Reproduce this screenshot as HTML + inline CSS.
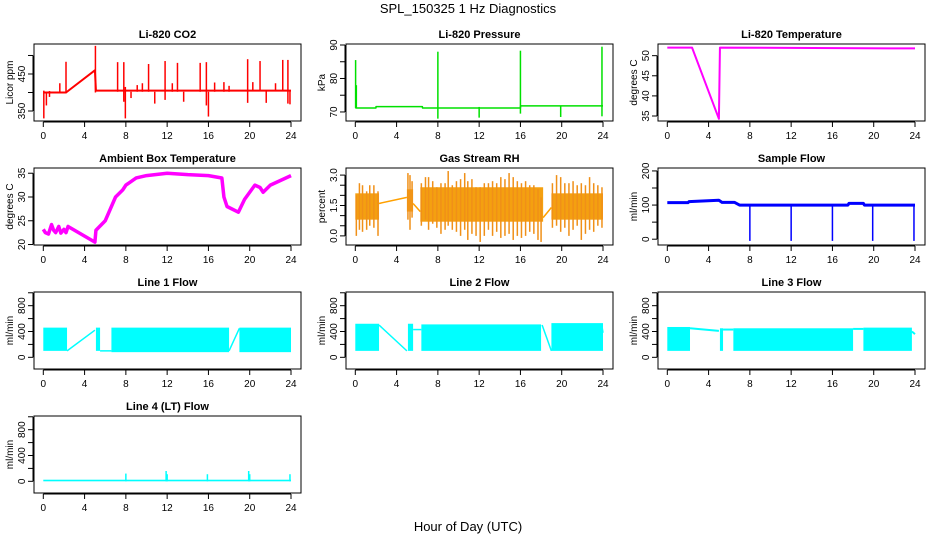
<!DOCTYPE html>
<html><head><meta charset="utf-8"><style>
body{margin:0;background:#fff}
svg{display:block;font-family:"Liberation Sans",sans-serif}
</style></head><body>
<svg id="chart" width="936" height="540" viewBox="0 0 936 540" xmlns="http://www.w3.org/2000/svg">
<text x="468" y="13" text-anchor="middle" font-size="13">SPL_150325  1 Hz Diagnostics</text>
<text x="468" y="531" text-anchor="middle" font-size="13">Hour of Day (UTC)</text>
</svg>
<script>
// ---- data ----
const xTicks = [0,4,8,12,16,20,24];
// CO2
const co2T = [0, 2.2, 5.0, 5.1, 24];
const co2V = [400, 400, 460, 405, 405];
const co2Spikes = [[0.05,330,405],[0.3,365,402],[0.6,388,404],[1.6,400,425],[2.2,398,483],[5.05,400,526],[7.2,402,482],[7.8,375,482],[7.95,330,415],[8.5,385,402],[9.1,402,420],[9.6,402,425],[10.2,402,477],[10.8,370,402],[11.8,380,485],[12.5,402,425],[13,402,480],[13.6,375,402],[15.2,402,480],[15.8,365,482],[16,335,402],[16.6,402,427],[17.5,402,428],[18,402,418],[19.8,372,490],[20.3,404,428],[21,404,485],[21.6,372,404],[22.5,404,425],[23.2,404,488],[23.7,370,488],[23.9,368,405]];
// Pressure
const prT = [0, 2, 2.01, 6.5, 6.51, 16, 16.01, 24];
const prV = [71.2, 71.2, 71.6, 71.6, 71.2, 71.2, 71.8, 71.8];
const prSpikes = [[0.03,71.2,85.5],[0.1,71.2,78],[8,68,88],[12,68.3,71.5],[16,69.5,88.3],[19.9,68.5,71.9],[23.9,68.7,89.5]];
// Li-820 temperature
const tmT = [0, 2.4, 5.0, 5.1, 24];
const tmV = [52, 52, 34.3, 52, 51.8];
// Ambient box temperature
const abT = [0,0.2,0.5,0.8,1.0,1.2,1.5,1.7,2.0,2.2,2.4,5.0,5.1,6.0,6.5,7.0,7.7,8.0,9.0,10.0,12.0,14.0,16.0,17.3,17.5,17.8,18.9,19.5,20.5,21.0,21.3,22.0,23.0,24.0];
const abV = [23.2,22.5,22.2,24.2,23.0,22.5,23.8,22.4,23.2,22.5,23.8,20.5,23.0,25.0,27.5,30.0,31.5,32.5,34.0,34.5,35.0,34.7,34.5,34.0,30.0,28.0,26.8,29.5,32.5,32.0,31.0,32.5,33.5,34.5];
// Gas stream RH
const rhCore = [[0,2.3,0.8,2.1],[5,5.6,1.2,2.3],[6.3,18.2,0.7,2.4],[19,24,0.8,2.1]];
const rhLinks = [[2.3,1.6,5,1.9],[5.6,1.6,6.3,1.2],[18.2,0.9,19,1.4]];
const rhSpikes = [[0.1,0,2.0],[0.4,0.3,2.6],[0.7,0.2,2.5],[1.1,0.3,2.2],[1.4,0.5,2.5],[1.8,0.4,2.5],[2.2,0,2.2],[5.1,0.8,3.1],[5.3,0.3,3.0],[5.5,0.9,2.7],[6.4,0.5,2.6],[6.8,0.8,2.9],[7.1,0.3,2.9],[7.5,0.6,2.7],[7.9,0.4,2.4],[8.3,0.1,2.6],[8.7,0.3,2.6],[9.0,0.5,3.2],[9.4,0.3,2.5],[9.8,0.2,2.7],[10.2,0.0,2.8],[10.6,0.3,3.1],[10.9,-0.2,2.7],[11.3,0.1,2.8],[11.7,0.0,2.4],[12.1,-0.3,2.4],[12.5,0.0,2.6],[12.9,0.3,2.6],[13.3,0.0,2.7],[13.7,0.2,2.6],[14.1,-0.1,2.9],[14.5,0.0,2.8],[14.9,0.1,3.1],[15.3,-0.2,2.9],[15.7,0.0,2.7],[16.1,-0.1,2.6],[16.5,0.0,2.7],[16.9,0.2,2.5],[17.3,0.1,2.5],[17.7,-0.2,2.3],[18.0,-0.3,1.9],[19.1,0.4,2.6],[19.5,0.5,3.0],[19.9,0.2,2.9],[20.3,0.4,2.6],[20.7,0,2.6],[21.1,0.3,2.7],[21.5,0.5,2.5],[21.9,-0.2,2.6],[22.3,0.1,2.5],[22.7,0.3,2.9],[23.1,0.2,2.6],[23.5,0.5,2.5],[23.9,0.4,2.4]];
// Sample flow
const sfT = [0, 2, 2.1, 5, 5.3, 6.5, 7, 17.5, 17.6, 19, 19.1, 24];
const sfV = [107, 107, 110, 114, 108, 108, 100, 100, 105, 105, 100, 100];
const sfDips = [[8,-5,100],[12,-5,100],[16,-5,100],[19.9,-5,100],[23.9,-5,100]];
// Line flows: bands [start,end,lo,hi], links [t1,v1,t2,v2]
const l1Bands = [[0,2.3,100,460],[5.1,5.5,100,460],[6.6,18,80,460],[19,24,80,460]];
const l1Links = [[2.3,100,5,420],[5.5,100,6.6,100],[18,100,19,450]];
const l2Bands = [[0,2.3,100,520],[5.1,5.6,100,520],[6.4,18,100,510],[19,24,100,530]];
const l2Links = [[2.3,500,5,100],[5.6,430,6.4,430],[18.1,500,19,100],[23.9,480,24,380]];
const l3Bands = [[0,2.2,100,470],[5.1,5.4,100,450],[6.4,18,100,450],[19,23.7,100,460]];
const l3Links = [[2.2,450,5,410],[5.4,430,6.4,430],[18,440,19,440],[23.7,400,24,360]];
const l4Bands = [[0,24,0,25]];
const l4Spikes = [[8,0,120],[11.9,0,160],[12,0,110],[15.9,0,110],[19.9,0,160],[20,0,110],[23.9,0,110]];

// ---- drawing ----
const svg = document.getElementById('chart');
const NS = 'http://www.w3.org/2000/svg';
function mk(tag, attrs, parent){const e=document.createElementNS(NS,tag);for(const k in attrs)e.setAttribute(k,attrs[k]);(parent||svg).appendChild(e);return e;}
function panel(col,row,ylo,yhi,title,ytitle,yticks,ylabels,name){
  const L=34+312*col, T=44+124*row, W=267, H=77;
  const g=mk('g',{});
  
  
  const p={g,L,T,W,H,x:t=>L+9.3+t*(247.7/24),y:v=>T+H*(yhi-v)/(yhi-ylo)};
  const tt=mk('text',{x:L+W/2,y:T-6,'text-anchor':'middle','font-size':11,'font-weight':'bold'},g);tt.textContent=title;
  
  
  const yt=mk('text',{transform:`translate(${L-21},${T+H/2}) rotate(-90)`,'text-anchor':'middle','font-size':10},g);yt.textContent=ytitle;
  
  
  const ax=mk('g',{stroke:'#000','stroke-width':1,fill:'none'},g);
  mk('line',{x1:p.x(0),x2:p.x(24),y1:T+H+1,y2:T+H+1},ax);
  xTicks.forEach(t=>{mk('line',{x1:p.x(t),x2:p.x(t),y1:T+H+1,y2:T+H+6},ax);
    const lb=mk('text',{x:p.x(t),y:T+H+18,'text-anchor':'middle','font-size':10,stroke:'none',fill:'#000'},g);lb.textContent=t;
    
    });
  mk('line',{x1:L-1,x2:L-1,y1:p.y(yticks[0]),y2:p.y(yticks[yticks.length-1])},ax);
  yticks.forEach((v,i)=>{mk('line',{x1:L-1,x2:L-6,y1:p.y(v),y2:p.y(v)},ax);
    if(ylabels[i]!==''){const lb=mk('text',{transform:`translate(${L-9},${p.y(v)}) rotate(-90)`,'text-anchor':'middle','font-size':10,stroke:'none',fill:'#000'},g);lb.textContent=ylabels[i];
    
    }});
  p.plot=mk('g',{},g);
  const bx=mk('rect',{x:L,y:T,width:W,height:H,fill:'none',stroke:'#000','stroke-width':1},g);
  
  
  return p;
}
function line(p,T,V,color,w,name){
  const e=mk('polyline',{points:T.map((t,i)=>p.x(t)+','+p.y(V[i])).join(' '),fill:'none',stroke:color,'stroke-width':w,'stroke-linejoin':'round'},p.plot);
  
  
}
function spikes(p,S,color,w,name){
  S.forEach(s=>{const e=mk('line',{x1:p.x(s[0]),x2:p.x(s[0]),y1:p.y(s[1]),y2:p.y(s[2]),stroke:color,'stroke-width':w},p.plot);
  
  });
}
function bands(p,B,color,name){
  B.forEach(b=>{const e=mk('rect',{x:p.x(b[0]),y:p.y(b[3]),width:p.x(b[1])-p.x(b[0]),height:p.y(b[2])-p.y(b[3]),fill:color},p.plot);
  
  });
}
function links(p,Lk,color,w,name){
  Lk.forEach(l=>{const e=mk('line',{x1:p.x(l[0]),y1:p.y(l[1]),x2:p.x(l[2]),y2:p.y(l[3]),stroke:color,'stroke-width':w},p.plot);
  
  });
}
const flowTicks=[0,200,400,600,800,1000], flowLabels=['0','','400','','800',''];
let p;
p=panel(0,0,323,531,'Li-820 CO2','Licor ppm',[350,400,450,500],['350','','450',''],'co2');
line(p,co2T,co2V,'#ff0000',2,'co2-line'); spikes(p,co2Spikes,'#ff0000',1.5,'co2-spike');
p=panel(1,0,67.3,90.3,'Li-820 Pressure','kPa',[70,75,80,85,90],['70','','80','','90'],'pressure');
line(p,prT,prV,'#00e000',1.5,'pressure-line'); spikes(p,prSpikes,'#00e000',1.5,'pressure-spike');
p=panel(2,0,33.76,52.9,'Li-820 Temperature','degrees C',[35,40,45,50],['35','40','45','50'],'li820-temp');
line(p,tmT,tmV,'#ff00ff',2,'li820-temp-line');
p=panel(0,1,19.9,36.1,'Ambient Box Temperature','degrees C',[20,25,30,35],['20','25','30','35'],'ambient-temp');
line(p,abT,abV,'#ff00ff',3.5,'ambient-temp-line');
p=panel(1,1,-0.45,3.35,'Gas Stream RH','percent',[0,0.5,1,1.5,2,2.5,3],['0.0','','','1.5','','','3.0'],'rh');
bands(p,rhCore,'#f4a010','rh-core-band'); spikes(p,rhSpikes,'#f09018',1.5,'rh-spike'); links(p,rhLinks,'#ffa000',1.5,'rh-link');
p=panel(2,1,-17,208.6,'Sample Flow','ml/min',[0,50,100,150,200],['0','','100','','200'],'sample-flow');
line(p,sfT,sfV,'#0000ff',3,'sample-flow-line'); spikes(p,sfDips,'#0000ff',1.5,'sample-flow-dip');
p=panel(0,2,-181,1012,'Line 1 Flow','ml/min',flowTicks,flowLabels,'line1-flow');
bands(p,l1Bands,'#00ffff','line1-band'); links(p,l1Links,'#00ffff',1.5,'line1-link');
p=panel(1,2,-181,1012,'Line 2 Flow','ml/min',flowTicks,flowLabels,'line2-flow');
bands(p,l2Bands,'#00ffff','line2-band'); links(p,l2Links,'#00ffff',1.5,'line2-link');
p=panel(2,2,-181,1012,'Line 3 Flow','ml/min',flowTicks,flowLabels,'line3-flow');
bands(p,l3Bands,'#00ffff','line3-band'); links(p,l3Links,'#00ffff',2,'line3-link');
p=panel(0,3,-181,1012,'Line 4 (LT) Flow','ml/min',flowTicks,flowLabels,'line4-flow');
bands(p,l4Bands,'#00ffff','line4-band'); spikes(p,l4Spikes,'#00ffff',1.5,'line4-spike');
</script>
</body></html>
